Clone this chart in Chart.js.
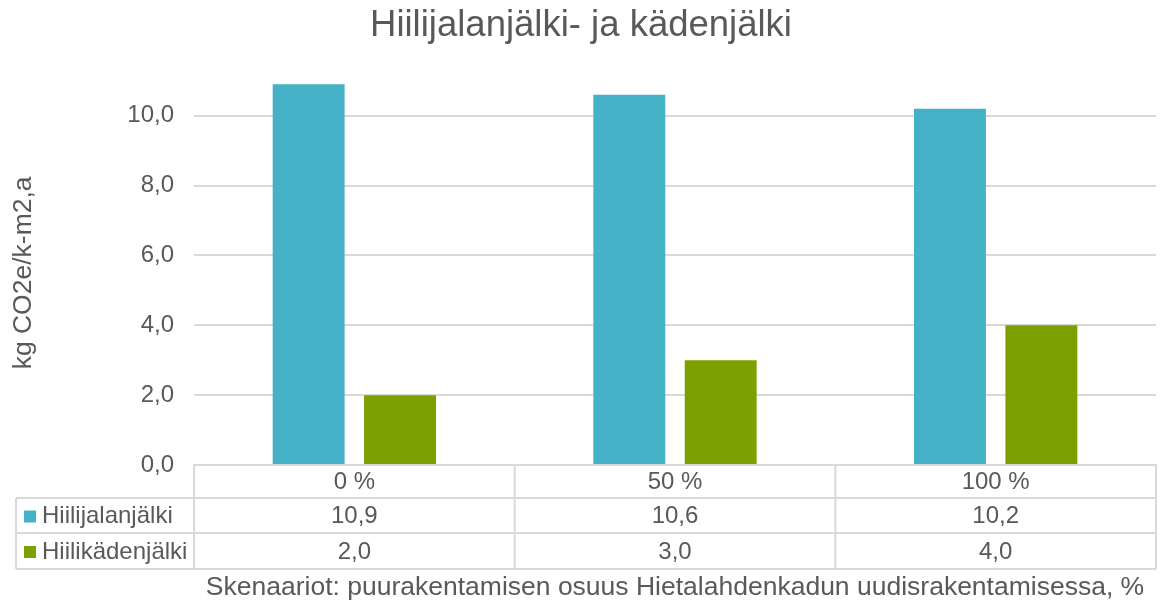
<!DOCTYPE html>
<html>
<head>
<meta charset="utf-8">
<title>Hiilijalanjälki- ja kädenjälki</title>
<script src="https://cdn.jsdelivr.net/npm/chart.js@4.4.1/dist/chart.umd.min.js"></script>
<style>
  html, body { margin: 0; padding: 0; background: #fff; }
  #wrap { width: 1160px; height: 603px; }
</style>
</head>
<body>
<div id="wrap"><canvas id="chart"></canvas></div>
<script>
// scenarios and the two series
var scenarios = ['0 %', '50 %', '100 %']
var seriesNames = ['Hiilijalanjälki', 'Hiilikädenjälki']
var footprint = [10.9, 10.6, 10.2]
var handprint = [2.0, 3.0, 4.0]
var yTicks = [0, 2, 4, 6, 8, 10]
var colors = ['#44b1c6', '#7ba000']

var textColor = '#595959'
var lineColor = '#d9d9d9'
var fontName = '"Liberation Sans", Arial, sans-serif'

function fi(v) { return v.toFixed(1).replace('.', ',') }

// data table under the plot (legend keys + values)
const dataTable = {
    id: 'dataTable',
    afterDraw(chart) {
        const ctx = chart.ctx
        const x = chart.scales.x
        const top = chart.chartArea.bottom
        const rows = [top, top + 33, top + 68, top + 104]
        const legendLeft = 16
        const colW = (x.right - x.left) / scenarios.length

        ctx.save()
        ctx.strokeStyle = lineColor
        ctx.lineWidth = 2
        ctx.beginPath()
        for (let r = 1; r < rows.length; r++) {
            ctx.moveTo(legendLeft, rows[r])
            ctx.lineTo(x.right, rows[r])
        }
        for (let i = 0; i <= scenarios.length; i++) {
            let xx = x.left + i * colW
            ctx.moveTo(xx, rows[0])
            ctx.lineTo(xx, rows[3])
        }
        ctx.moveTo(legendLeft, rows[1])
        ctx.lineTo(legendLeft, rows[3])
        ctx.stroke()

        ctx.font = '24px ' + fontName
        ctx.textBaseline = 'middle'
        const series = [footprint, handprint]
        series.forEach((vals, r) => {
            const cy = (rows[r + 1] + rows[r + 2]) / 2 + 1
            ctx.fillStyle = colors[r]
            ctx.fillRect(24, cy - 6, 12, 12)
            ctx.fillStyle = textColor
            ctx.textAlign = 'left'
            ctx.fillText(seriesNames[r], 42, cy)
            ctx.textAlign = 'center'
            vals.forEach((v, i) => {
                ctx.fillText(fi(v), x.getPixelForValue(i), cy)
            })
        })
        ctx.restore()
    }
}

const ctx = document.getElementById('chart').getContext('2d')
const myChart = new Chart(ctx, {
    type: 'bar',
    data: {
        labels: scenarios,
        datasets: [{
            label: seriesNames[0],
            data: footprint,
            backgroundColor: colors[0]
        }, {
            label: seriesNames[1],
            data: handprint,
            backgroundColor: colors[1]
        }]
    },
    options: {
        responsive: true,
        maintainAspectRatio: false,
        animation: false,
        categoryPercentage: 0.57,
        barPercentage: 0.787,
        layout: { padding: { left: 6, right: 4, top: 0, bottom: 0 } },
        plugins: {
            legend: { display: false },
            tooltip: { enabled: false },
            title: {
                display: true,
                text: 'Hiilijalanjälki- ja kädenjälki',
                color: textColor,
                font: { family: fontName, size: 36.5, weight: 'normal' },
                padding: { top: 4, bottom: 33 }
            }
        },
        scales: {
            x: {
                grid: { display: false, drawTicks: false },
                border: { display: true, color: lineColor, width: 2 },
                ticks: {
                    color: textColor,
                    font: { family: fontName, size: 24 },
                    padding: 3
                },
                title: {
                    display: true,
                    text: 'Skenaariot: puurakentamisen osuus Hietalahdenkadun uudisrakentamisessa, %',
                    color: textColor,
                    font: { family: fontName, size: 26.5, lineHeight: 1 },
                    padding: { top: 0, bottom: 2 }
                },
                afterFit: (s) => { s.height = 138 }
            },
            y: {
                min: 0,
                max: 11,
                grid: { color: lineColor, lineWidth: 2, drawTicks: false },
                border: { display: false },
                ticks: {
                    color: textColor,
                    font: { family: fontName, size: 24 },
                    padding: 20,
                    callback: (v) => fi(v)
                },
                afterBuildTicks: (s) => {
                    s.ticks = yTicks.map(v => ({ value: v }))
                },
                title: {
                    display: true,
                    text: 'kg CO2e/k-m2,a',
                    color: textColor,
                    font: { family: fontName, size: 26.5 },
                    padding: { top: 2, bottom: 2 }
                },
                afterFit: (s) => { s.width = 188 }
            }
        }
    },
    plugins: [dataTable]
})
</script>
</body>
</html>
